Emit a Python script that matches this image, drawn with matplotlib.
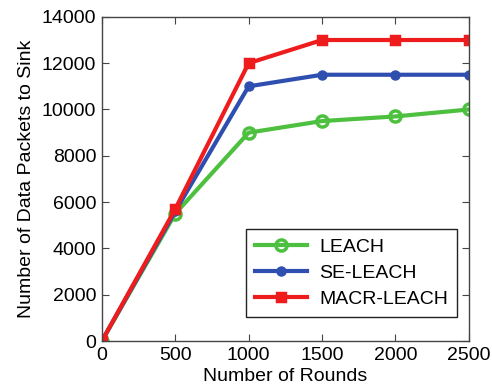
import matplotlib
matplotlib.use('Agg')
import matplotlib.pyplot as plt

# Data
rounds = [0, 500, 1000, 1500, 2000, 2500]
leach = [0, 5500, 9000, 9500, 9700, 10000]
se_leach = [0, 5600, 11000, 11500, 11500, 11500]
macr_leach = [0, 5700, 12000, 13000, 13000, 13000]

plt.rcParams['font.family'] = ['Liberation Sans', 'DejaVu Sans']
plt.rcParams['font.size'] = 14

fig = plt.figure(figsize=(4.92, 3.92), dpi=100)
ax = fig.add_axes([0.207, 0.130, 0.746, 0.827])

ax.plot(rounds, leach, color='#4dc040', linewidth=3, marker='o', markersize=8,
        markerfacecolor='none', markeredgewidth=2.5, label='LEACH')
ax.plot(rounds, se_leach, color='#2f4fb0', linewidth=3, marker='o', markersize=6.5,
        label='SE-LEACH')
ax.plot(rounds, macr_leach, color='#ee1c1c', linewidth=3, marker='s', markersize=6,
        markeredgewidth=2.5, label='MACR-LEACH')

ax.set_xlim(0, 2500)
ax.set_ylim(0, 14000)
ax.set_xticks(rounds)
ax.set_yticks(range(0, 14001, 2000))
ax.tick_params(direction='in', top=True, right=True, length=5, color='#444444', pad=4)
for s in ax.spines.values():
    s.set_color('#444444')
    s.set_linewidth(1)

ax.set_xlabel('Number of Rounds', labelpad=3)
ax.set_ylabel('Number of Data Packets to Sink', labelpad=5)

leg = ax.legend(loc='lower right', bbox_to_anchor=(0.967, 0.074), borderaxespad=0,
                fancybox=False, edgecolor='#222222', framealpha=1, handlelength=2.7,
                borderpad=0.45, labelspacing=0.45, handletextpad=0.6)
leg.get_frame().set_linewidth(1)

fig.savefig('out.png', dpi=100)
